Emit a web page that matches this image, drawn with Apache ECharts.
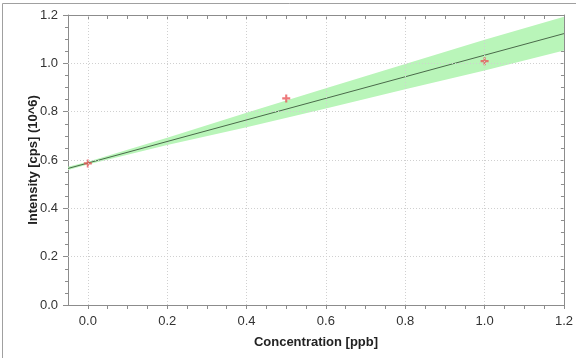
<!DOCTYPE html>
<html>
<head>
<meta charset="utf-8">
<script src="https://cdn.jsdelivr.net/npm/echarts@6/dist/echarts.min.js"></script>
<style>
  html, body { margin: 0; padding: 0; background: #fff; }
  #chart { width: 576px; height: 358px; }
</style>
</head>
<body>
<div id="chart"></div>
<script>
// measured standards
const stdConc = [0.0, 0.5, 1.0]
const stdIntensity = [0.586, 0.855, 1.009]

// calibration line (read at the plot edges)
const fitX = [-0.05, 1.2]
const fitY = [0.565, 1.123]

// confidence band
const bandX = [-0.05, 0.0, 0.2, 0.4, 0.6, 0.8, 1.0, 1.2]
const bandUpper = [0.572, 0.593, 0.692, 0.796, 0.897, 0.997, 1.098, 1.193]
const bandLower = [0.559, 0.581, 0.662, 0.736, 0.813, 0.893, 0.970, 1.053]

// tick labels / dotted grid positions
const xTicks = [0.0, 0.2, 0.4, 0.6, 0.8, 1.0, 1.2]
const yGrid = [0.2, 0.4, 0.6, 0.8, 1.0]

const chart = echarts.init(document.getElementById('chart'))

const axisGray = '#8c8c8c'
const dotted = { color: '#d0d0d0', type: [1, 2], width: 1 }
const labelStyle = { color: '#333', fontSize: 13, fontFamily: 'Liberation Sans, Arial, sans-serif' }
const nameStyle = { color: '#222', fontSize: 13, fontWeight: 'bold', fontFamily: 'Liberation Sans, Arial, sans-serif' }

// x axis ticks every 0.05 (min is -0.05), labels only on the 0.2 steps
const onMajorX = v => xTicks.some(t => Math.abs(t - v) < 1e-6)

const option = {
  backgroundColor: '#fff',
  animation: false,
  grid: { left: 68, right: 12, top: 15, bottom: 53 },
  graphic: [
    { type: 'line', shape: { x1: 2.5, y1: 3.5, x2: 576, y2: 3.5 }, style: { stroke: '#a0a0a0', lineWidth: 1 } },
    { type: 'line', shape: { x1: 2.5, y1: 3.5, x2: 2.5, y2: 358 }, style: { stroke: '#a0a0a0', lineWidth: 1 } }
  ],
  xAxis: [
    {
      type: 'value', min: -0.05, max: 1.2, interval: 0.05, position: 'bottom',
      name: 'Concentration [ppb]', nameLocation: 'middle', nameGap: 31,
      nameTextStyle: nameStyle,
      axisLine: { show: true, onZero: false, lineStyle: { color: axisGray } },
      axisTick: { show: true, length: 4, lineStyle: { color: axisGray } },
      axisLabel: Object.assign({ margin: 10, showMinLabel: false,
        formatter: v => onMajorX(v) ? v.toFixed(1) : '' }, labelStyle),
      splitLine: { show: false }
    },
    {
      type: 'value', min: -0.05, max: 1.2, interval: 0.05, position: 'top',
      axisLine: { show: true, onZero: false, lineStyle: { color: axisGray } },
      axisTick: { show: true, inside: true, length: 4, lineStyle: { color: axisGray } },
      axisLabel: { show: false },
      splitLine: { show: false }
    }
  ],
  yAxis: [
    {
      type: 'value', min: 0, max: 1.2, interval: 0.2, position: 'left',
      name: 'Intensity [cps] (10^6)', nameLocation: 'middle', nameGap: 28,
      nameMoveOverlap: false,
      nameTextStyle: nameStyle,
      axisLine: { show: true, onZero: false, lineStyle: { color: axisGray } },
      axisTick: { show: true, length: 5, lineStyle: { color: axisGray } },
      minorTick: { show: true, splitNumber: 4, length: 3, lineStyle: { color: axisGray } },
      axisLabel: Object.assign({ margin: 10, formatter: v => v.toFixed(1) }, labelStyle),
      splitLine: { show: false }
    },
    {
      type: 'value', min: 0, max: 1.2, interval: 0.2, position: 'right',
      axisLine: { show: true, onZero: false, lineStyle: { color: axisGray } },
      axisTick: { show: true, inside: true, length: 4, lineStyle: { color: axisGray } },
      minorTick: { show: true, splitNumber: 4, length: 3, lineStyle: { color: axisGray } },
      axisLabel: { show: false },
      splitLine: { show: false }
    }
  ],
  series: [
    {
      type: 'custom',
      xAxisIndex: 0, yAxisIndex: 0,
      data: [0],
      clip: true,
      renderItem: (params, api) => {
        const pts = []
        bandX.forEach((x, i) => pts.push(api.coord([x, bandUpper[i]])))
        for (let i = bandX.length - 1; i >= 0; i--) pts.push(api.coord([bandX[i], bandLower[i]]))
        return {
          type: 'polygon',
          shape: { points: pts },
          style: { fill: '#b9f5b9', stroke: null }
        }
      },
      z: 1
    },
    {
      type: 'line',
      data: fitX.map((x, i) => [x, fitY[i]]),
      showSymbol: false,
      lineStyle: { color: '#4a6a4a', width: 1 },
      markLine: {
        silent: true,
        symbol: 'none',
        label: { show: false },
        lineStyle: dotted,
        data: xTicks.slice(0, -1).map(v => ({ xAxis: v }))
          .concat(yGrid.map(v => ({ yAxis: v })))
      },
      z: 2
    },
    {
      type: 'scatter',
      data: stdConc.map((x, i) => [x, stdIntensity[i]]),
      symbol: 'path://M2.2,0h1.6v2.2h2.2v1.6h-2.2v2.2h-1.6v-2.2h-2.2v-1.6h2.2z',
      symbolSize: 8,
      itemStyle: { color: '#e8585a' },
      z: 3
    }
  ]
}

chart.setOption(option)
</script>
</body>
</html>
